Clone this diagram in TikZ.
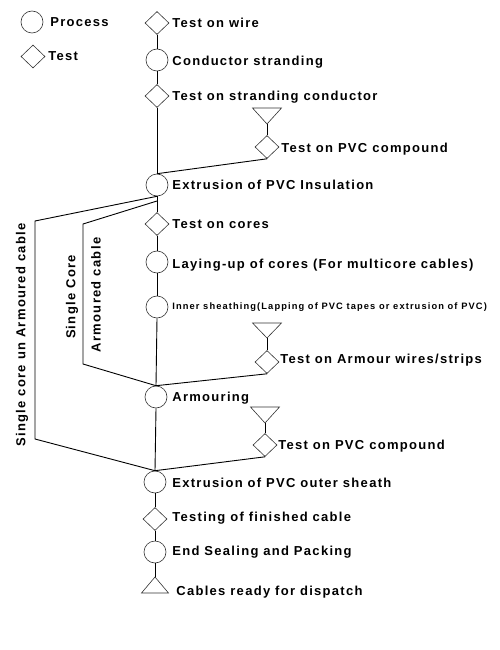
\documentclass[tikz,border=0pt]{standalone}
\usepackage{fontspec}
\setmainfont{Liberation Sans}
\newfontfamily\lblfont[LetterSpace=10]{Liberation Sans Bold}
\newfontfamily\smallfont[LetterSpace=12]{Liberation Sans Bold}
\usetikzlibrary{shapes.geometric}
\begin{document}
\begin{tikzpicture}[x=1pt,y=-1pt,
  line width=0.7pt,
  proc/.style={circle,draw=black!80,line width=0.6pt,minimum size=22pt,inner sep=0pt},
  testbox/.style={diamond,draw=black!80,line width=0.6pt,minimum width=24pt,minimum height=23pt,inner sep=0pt},
  lbl/.style={font=\lblfont\fontsize{13}{15}\selectfont,anchor=base west,inner sep=0pt},
  smalllbl/.style={font=\smallfont\fontsize{9.3}{11}\selectfont,anchor=base west,inner sep=0pt},
  conn/.style={draw=black,line width=0.9pt}
]
\useasboundingbox (0,0) rectangle (500,650);

% legend
\node[proc] (lp) at (32,22) {};
\node[lbl] (lpt) at (50,26.5) {Process};
\node[testbox] (lt) at (33,56.5) {};
\node[lbl] (ltt) at (48,60.5) {Test};

% main column
\node[testbox] (wire) at (157,23) {};
\node[proc] (cond) at (157,60) {};
\node[testbox] (strand) at (157,96) {};
\node[proc] (ext) at (157,185) {};
\node[testbox] (cores) at (157,224) {};
\node[proc] (lay) at (157,262) {};
\node[proc] (inner) at (157,307) {};
\node[proc] (arm) at (156,397) {};
\node[proc] (outer) at (155,482) {};
\node[testbox] (fin) at (155,519) {};
\node[proc] (seal) at (155,552) {};
\coordinate (disp) at (155,577);
\draw[black!80,line width=0.6pt] (disp) -- ++(-13.5,16) -- ++(27,0) -- cycle;

% side tests
\coordinate (t1) at (267,124);
\draw[black!80,line width=0.6pt] (t1) -- ++(-14.5,-16) -- ++(29,0) -- cycle;
\node[testbox] (pvc1) at (267,147) {};
\coordinate (t2) at (267,338);
\draw[black!80,line width=0.6pt] (t2) -- ++(-14.5,-15) -- ++(29,0) -- cycle;
\node[testbox] (armw) at (267,362) {};
\coordinate (t3) at (265,423);
\draw[black!80,line width=0.6pt] (t3) -- ++(-14.5,-16) -- ++(29,0) -- cycle;
\node[testbox] (pvc2) at (265,445) {};

% labels
\node[lbl] at (172,27.5) {Test on wire};
\node[lbl] at (172,65.5) {Conductor stranding};
\node[lbl] at (172,100.5) {Test on stranding conductor};
\node[lbl] at (281,152.5) {Test on PVC compound};
\node[lbl] at (172,189.5) {Extrusion of PVC Insulation};
\node[lbl] at (172,228.5) {Test on cores};
\node[lbl] at (172,268.5) {Laying-up of cores (For multicore cables)};
\node[smalllbl] at (172,309.5) {Inner sheathing(Lapping of PVC tapes or extrusion of PVC)};
\node[lbl] at (280,363.5) {Test on Armour wires/strips};
\node[lbl] at (172,401.5) {Armouring};
\node[lbl] at (278,449.5) {Test on PVC compound};
\node[lbl] at (172,487.5) {Extrusion of PVC outer sheath};
\node[lbl] at (172,521.5) {Testing of finished cable};
\node[lbl] at (172,555.5) {End Sealing and Packing};
\node[lbl] at (176,595.5) {Cables ready for dispatch};

\node[lbl,anchor=center,rotate=90] at (22,335) {Single core un Armoured cable};
\node[lbl,anchor=center,rotate=90] at (72,297) {Single Core};
\node[lbl,anchor=center,rotate=90] at (96,295) {Armoured cable};

% main connectors
\draw[conn] (wire.south) -- (cond.north);
\draw[conn] (cond.south) -- (strand.north);
\draw[conn] (strand.south) -- (ext.north);
\draw[conn] (ext.south) -- (cores.north);
\draw[conn] (cores.south) -- (lay.north);
\draw[conn] (lay.south) -- (inner.north);
\draw[conn] (inner.south) -- (arm.north);
\draw[conn] (arm.south) -- (outer.north);
\draw[conn] (outer.south) -- (fin.north);
\draw[conn] (fin.south) -- (seal.north);
\draw[conn] (seal.south) -- (disp);

% side connectors
\draw[conn] (t1) -- (pvc1.north);
\draw[conn] (pvc1.south) -- (ext.north);
\draw[conn] (t2) -- (armw.north);
\draw[conn] (armw.south) -- (arm.north);
\draw[conn] (t3) -- (pvc2.north);
\draw[conn] (pvc2.south) -- (outer.north);

% bypass branches
\coordinate (b2) at (157,201);
\draw[conn] (ext.south) -- (35,221) -- (35,439) -- (outer.north);
\draw[conn] (b2) -- (83,224) -- (83,364) -- (arm.north);
\end{tikzpicture}
\end{document}
